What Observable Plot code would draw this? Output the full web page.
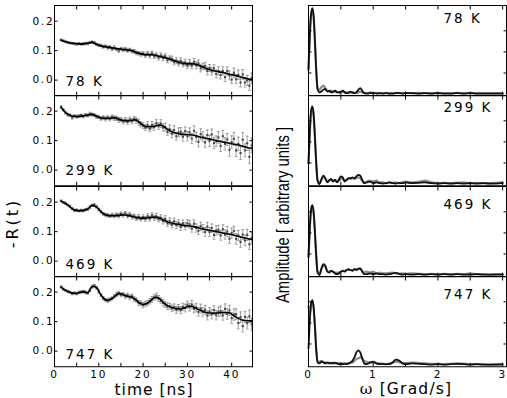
<!DOCTYPE html>
<html><head><meta charset="utf-8">
<script src="https://cdn.jsdelivr.net/npm/d3@7"></script>
<script src="https://cdn.jsdelivr.net/npm/@observablehq/plot@0.6"></script>
<style>
html,body{margin:0;padding:0;background:#fff;overflow:hidden}
#wrap{position:relative;width:507px;height:398px;overflow:hidden;font-family:"DejaVu Sans",sans-serif;color:#000}
#wrap svg{position:absolute;overflow:visible}
#wrap g[aria-label$="tick label"]{letter-spacing:1.8px}
#wrap g[aria-label="text"]{letter-spacing:2px}
</style></head><body><div id="wrap"></div>
<script>
// ---------------- data ----------------
const temps = ["78 K", "299 K", "469 K", "747 K"];

const timeNs = [1.5,2,2.5,3,3.5,4,4.5,5,5.5,6,6.5,7,7.5,8,8.5,9,9.5,10,
10.5,11,11.5,12,12.5,13,13.5,14,14.5,15,15.5,16,16.5,17,17.5,18,18.5,19,19.5,20,
20.5,21,21.5,22,22.5,23,23.5,24,24.5,25,25.5,26,26.5,27,27.5,28,28.5,29,29.5,30,
30.5,31,31.5,32,32.5,33,33.5,34,34.5,35,35.5,36,36.5,37,
37.5,38,38.5,39,39.5,40,40.5,41,41.5,42,42.5,43,43.5,44,44.5];

const r78 = [0.136,0.133,0.130,0.128,0.126,0.125,0.124,0.122,0.124,0.122,0.123,0.125,0.124,0.127,0.129,0.126,0.121,0.118,
0.117,0.113,0.115,0.110,0.112,0.106,0.110,0.105,0.100,0.106,0.103,0.105,0.100,0.103,0.098,0.097,0.092,0.091,0.088,0.090,
0.084,0.090,0.083,0.091,0.081,0.085,0.076,0.084,0.075,0.081,0.068,0.074,0.072,0.061,0.066,0.057,0.065,0.054,0.060,0.049,
0.059,0.049,0.062,0.050,0.057,0.040,0.046,0.048,0.031,0.041,0.030,0.040,0.021,0.031,
0.017,0.031,0.010,0.031,0.016,0.002,0.025,0.003,0.018,-0.008,0.019,-0.008,-0.001,-0.019,0.006];
const e78 = [0.003,0.003,0.003,0.003,0.003,0.003,0.003,0.004,0.003,0.003,0.004,0.003,0.004,0.003,0.004,0.004,0.004,0.004,
0.004,0.005,0.004,0.005,0.005,0.005,0.006,0.005,0.006,0.005,0.006,0.006,0.006,0.005,0.006,0.007,0.006,0.006,0.007,0.006,
0.007,0.007,0.008,0.007,0.008,0.007,0.008,0.008,0.009,0.008,0.009,0.008,0.009,0.009,0.010,0.009,0.010,0.009,0.010,0.010,
0.011,0.010,0.011,0.012,0.011,0.012,0.011,0.012,0.013,0.012,0.013,0.012,0.013,0.014,
0.013,0.014,0.015,0.014,0.015,0.014,0.016,0.015,0.016,0.015,0.017,0.016,0.017,0.016,0.018];

const r299 = [0.214,0.204,0.194,0.188,0.186,0.178,0.184,0.181,0.183,0.186,0.182,0.187,0.185,0.190,0.188,0.186,0.181,0.180,
0.175,0.178,0.174,0.178,0.174,0.180,0.176,0.175,0.170,0.171,0.165,0.170,0.164,0.171,0.166,0.174,0.168,0.163,0.155,0.151,
0.144,0.153,0.140,0.153,0.146,0.159,0.149,0.158,0.144,0.146,0.130,0.139,0.123,0.136,0.115,0.128,0.130,0.113,0.132,0.115,
0.128,0.107,0.133,0.112,0.096,0.122,0.113,0.094,0.119,0.099,0.121,0.092,0.098,0.111,
0.082,0.115,0.089,0.104,0.069,0.095,0.106,0.067,0.089,0.058,0.103,0.067,0.091,0.045,0.084];
const e299 = [0.004,0.004,0.004,0.005,0.004,0.005,0.004,0.005,0.005,0.004,0.005,0.005,0.005,0.006,0.005,0.005,0.006,0.005,
0.006,0.006,0.007,0.006,0.007,0.007,0.008,0.007,0.008,0.007,0.008,0.008,0.009,0.008,0.009,0.008,0.009,0.010,0.009,0.010,
0.010,0.011,0.010,0.012,0.011,0.012,0.011,0.013,0.012,0.013,0.012,0.014,0.013,0.014,0.013,0.015,0.014,0.015,0.014,0.016,
0.015,0.016,0.017,0.016,0.017,0.018,0.017,0.018,0.017,0.019,0.018,0.019,0.018,0.020,
0.019,0.020,0.021,0.020,0.022,0.021,0.022,0.021,0.023,0.022,0.024,0.022,0.024,0.023,0.025];

const r469 = [0.204,0.199,0.196,0.190,0.185,0.178,0.172,0.173,0.170,0.172,0.171,0.174,0.176,0.183,0.189,0.191,0.184,0.175,
0.167,0.160,0.157,0.155,0.153,0.156,0.153,0.157,0.154,0.160,0.156,0.162,0.153,0.158,0.150,0.152,0.145,0.150,0.143,0.149,
0.143,0.152,0.144,0.155,0.147,0.152,0.142,0.147,0.136,0.143,0.128,0.135,0.123,0.135,0.122,0.129,0.116,0.128,0.118,0.128,
0.125,0.110,0.127,0.112,0.103,0.118,0.111,0.099,0.117,0.099,0.112,0.089,0.104,0.106,
0.087,0.108,0.090,0.100,0.076,0.095,0.102,0.075,0.087,0.065,0.090,0.070,0.089,0.057,0.078];
const e469 = [0.003,0.003,0.004,0.003,0.004,0.003,0.004,0.004,0.003,0.004,0.004,0.004,0.004,0.005,0.004,0.004,0.005,0.004,
0.005,0.005,0.005,0.006,0.005,0.006,0.006,0.006,0.007,0.006,0.007,0.006,0.007,0.007,0.008,0.007,0.007,0.008,0.007,0.008,
0.008,0.009,0.008,0.009,0.009,0.010,0.009,0.010,0.010,0.011,0.010,0.011,0.010,0.011,0.012,0.011,0.012,0.011,0.012,0.012,
0.013,0.012,0.013,0.014,0.013,0.014,0.013,0.015,0.014,0.015,0.014,0.015,0.016,0.015,
0.016,0.015,0.016,0.017,0.016,0.017,0.016,0.018,0.017,0.018,0.017,0.018,0.019,0.018,0.019];

const r747 = [0.218,0.210,0.206,0.202,0.200,0.195,0.197,0.194,0.199,0.200,0.202,0.199,0.197,0.206,0.218,0.222,0.214,0.202,
0.190,0.179,0.174,0.171,0.175,0.179,0.186,0.192,0.196,0.191,0.193,0.186,0.189,0.182,0.186,0.176,0.173,0.163,0.162,0.156,
0.160,0.163,0.169,0.175,0.182,0.186,0.178,0.171,0.164,0.158,0.152,0.152,0.145,0.149,0.140,0.147,0.139,0.150,0.146,0.157,
0.149,0.158,0.143,0.148,0.133,0.144,0.133,0.140,0.121,0.134,0.125,0.139,0.122,0.133,
0.136,0.121,0.143,0.126,0.138,0.112,0.124,0.125,0.095,0.115,0.085,0.116,0.095,0.118,0.091];
const e747 = [0.003,0.004,0.003,0.004,0.003,0.004,0.004,0.003,0.004,0.004,0.004,0.005,0.004,0.004,0.005,0.004,0.005,0.005,
0.005,0.006,0.005,0.006,0.006,0.005,0.006,0.007,0.006,0.007,0.006,0.007,0.007,0.008,0.007,0.008,0.007,0.008,0.008,0.009,
0.008,0.009,0.009,0.010,0.009,0.010,0.010,0.009,0.011,0.010,0.011,0.010,0.011,0.011,0.012,0.011,0.012,0.012,0.013,0.012,
0.013,0.014,0.013,0.014,0.014,0.015,0.014,0.015,0.015,0.014,0.016,0.015,0.016,0.016,
0.017,0.016,0.017,0.018,0.017,0.018,0.019,0.018,0.019,0.018,0.020,0.019,0.020,0.021,0.020];

const fitT = [1.5,2.5,3.5,4.5,5.5,6.5,7.5,8.5,9.5,10.5,11.5,12.5,13.5,14.5,15.5,16.5,17.5,18.5,19.5,20.5,21.5,22.5,
23.5,24.5,25.5,26.5,27.5,28.5,29.5,30.5,31.5,32.5,33.5,34.5,35.5,36.5,37.5,38.5,39.5,40.5,41.5,42.5,43.5,44.5];
const fit78 = [0.135,0.130,0.126,0.124,0.123,0.123,0.125,0.128,0.122,0.116,0.113,0.111,0.108,0.106,0.104,0.102,0.100,0.094,0.089,0.086,0.086,0.085,
0.081,0.078,0.074,0.068,0.063,0.059,0.056,0.055,0.055,0.051,0.044,0.038,0.034,0.030,0.027,0.024,0.020,0.017,0.013,0.009,0.005,0.002];
const fit299 = [0.212,0.195,0.186,0.182,0.182,0.184,0.187,0.189,0.183,0.177,0.176,0.176,0.178,0.173,0.168,0.167,0.169,0.170,0.158,0.148,0.147,0.149,
0.153,0.150,0.138,0.130,0.125,0.122,0.121,0.120,0.118,0.114,0.110,0.107,0.104,0.100,0.097,0.094,0.091,0.088,0.085,0.081,0.077,0.074];
const fit469 = [0.203,0.195,0.184,0.173,0.171,0.172,0.177,0.189,0.183,0.168,0.157,0.154,0.154,0.155,0.157,0.155,0.152,0.148,0.146,0.146,0.148,0.149,
0.147,0.140,0.133,0.129,0.126,0.123,0.121,0.119,0.117,0.113,0.109,0.106,0.103,0.100,0.097,0.094,0.091,0.088,0.084,0.080,0.077,0.073];
const fit747 = [0.216,0.206,0.199,0.196,0.198,0.201,0.198,0.219,0.215,0.190,0.174,0.174,0.184,0.195,0.191,0.186,0.183,0.172,0.161,0.159,0.168,0.181,
0.180,0.166,0.154,0.148,0.144,0.143,0.148,0.153,0.149,0.141,0.135,0.130,0.129,0.129,0.130,0.131,0.130,0.120,0.111,0.105,0.103,0.103];

const omega = [0,0.02,0.04,0.06,0.08,0.10,0.12,0.14,
0.17,0.20,0.23,0.26,0.29,0.32,0.35,0.38,0.41,0.44,0.47,0.50,0.53,0.56,0.59,0.62,0.65,0.68,0.71,0.74,0.77,0.80,0.83,0.86,
0.90,0.95,1.00,1.05,1.10,1.15,1.20,1.25,1.30,1.35,1.40,1.45,1.50,
1.6,1.7,1.8,1.9,2.0,2.1,2.2,2.3,2.4,2.5,2.6,2.7,2.8,2.9,3.0];

const a78black = [0.30,0.70,0.95,1.02,0.92,0.62,0.28,0.06,
0.02,0.03,0.05,0.06,0.03,0.04,0.02,0.03,0.04,0.02,0.02,0.03,0.04,0.02,0.01,0.02,0.03,0.02,0.01,0.02,0.05,0.07,0.04,0.01,
0.005,0.01,0.015,0.005,0.01,0.005,0.01,0.005,0.005,0.01,0.015,0.005,0.01,
0.01,0.005,0.01,0.005,0.01,0.005,0.005,0.01,0.005,0.01,0.005,0.005,0.005,0.005,0.005];
const a78gray = [0.28,0.68,0.94,1.00,0.90,0.60,0.26,0.07,
0.05,0.08,0.10,0.07,0.04,0.03,0.04,0.02,0.03,0.03,0.02,0.02,0.03,0.02,0.02,0.01,0.02,0.01,0.02,0.01,0.02,0.03,0.02,0.015,
0.01,0.02,0.01,0.015,0.01,0.01,0.015,0.01,0.01,0.015,0.01,0.01,0.015,
0.01,0.015,0.01,0.01,0.015,0.01,0.01,0.015,0.01,0.015,0.01,0.01,0.01,0.01,0.01];

const a299black = [0.25,0.62,0.87,0.92,0.82,0.55,0.24,0.04,
0.00,0.06,0.10,0.07,0.02,0.04,0.06,0.03,0.05,0.02,0.05,0.09,0.08,0.03,0.05,0.07,0.07,0.08,0.07,0.09,0.11,0.10,0.05,0.01,
0.02,0.03,0.01,0.02,0.01,0.005,0.01,0.02,0.01,0.005,0.015,0.01,0.02,
0.01,0.015,0.02,0.01,0.005,0.01,0.005,0.01,0.005,0.01,0.005,0.01,0.005,0.005,0.01];
const a299gray = [0.24,0.60,0.85,0.90,0.80,0.54,0.24,0.05,
0.01,0.05,0.08,0.06,0.03,0.05,0.05,0.04,0.05,0.03,0.04,0.07,0.06,0.04,0.05,0.06,0.06,0.07,0.06,0.07,0.08,0.07,0.04,0.02,
0.03,0.04,0.03,0.04,0.02,0.02,0.01,0.02,0.015,0.02,0.01,0.02,0.03,
0.02,0.025,0.04,0.02,0.01,0.015,0.01,0.015,0.02,0.01,0.015,0.01,0.01,0.015,0.02];

const a469black = [0.22,0.56,0.78,0.83,0.74,0.50,0.22,0.03,
0.00,0.08,0.13,0.11,0.04,0.03,0.05,0.04,0.02,0.01,0.02,0.04,0.05,0.04,0.06,0.07,0.06,0.05,0.07,0.06,0.07,0.08,0.04,0.01,
0.01,0.02,0.01,0.02,0.01,0.01,0.005,0.01,0.02,0.025,0.015,0.005,0.01,
0.005,0.01,0.005,0.01,0.005,0.01,0.005,0.01,0.005,0.005,0.01,0.005,0.005,0.005,0.005];
const a469gray = [0.21,0.55,0.77,0.82,0.73,0.49,0.22,0.04,
0.02,0.07,0.11,0.10,0.05,0.04,0.05,0.04,0.03,0.03,0.03,0.04,0.05,0.05,0.06,0.06,0.06,0.06,0.07,0.07,0.08,0.07,0.05,0.03,
0.04,0.03,0.04,0.02,0.03,0.02,0.02,0.025,0.03,0.02,0.015,0.02,0.015,
0.02,0.015,0.01,0.015,0.01,0.015,0.01,0.015,0.01,0.02,0.01,0.01,0.005,0.01,0.01];

const a747black = [0.20,0.52,0.73,0.77,0.68,0.45,0.18,0.03,
0.02,0.04,0.03,0.02,0.03,0.02,0.025,0.02,0.03,0.02,0.01,0.02,0.01,0.015,0.01,0.02,0.03,0.05,0.09,0.15,0.175,0.15,0.08,0.02,
0.01,0.03,0.04,0.02,0.01,0.015,0.01,0.01,0.03,0.065,0.055,0.02,0.01,
0.02,0.015,0.01,0.005,0.01,0.005,0.01,0.015,0.01,0.005,0.01,0.005,0.005,0.005,0.005];
const a747gray = [0.70,0.60,0.72,0.76,0.67,0.44,0.18,0.04,
0.04,0.05,0.04,0.03,0.03,0.03,0.02,0.03,0.02,0.02,0.02,0.015,0.02,0.02,0.02,0.02,0.03,0.03,0.05,0.07,0.08,0.09,0.08,0.05,
0.04,0.03,0.03,0.02,0.02,0.015,0.01,0.02,0.03,0.04,0.035,0.025,0.02,
0.03,0.025,0.02,0.015,0.015,0.01,0.015,0.02,0.015,0.01,0.01,0.01,0.005,0.01,0.015];

const timeTicks = [0, 10, 20, 30, 40];
const timeMinor = [0, 5, 10, 15, 20, 25, 30, 35, 40];
const rTicks = [0, 0.1, 0.2];
const omegaTicks = [0, 1, 2, 3];
const omegaMinor = [0, 0.5, 1, 1.5, 2, 2.5, 3];
const ampTicks = [0.25, 0.5, 0.75];

const leftSeries = [[r78, e78, fit78], [r299, e299, fit299], [r469, e469, fit469], [r747, e747, fit747]];
const rightSeries = [[a78black, a78gray], [a299black, a299gray], [a469black, a469gray], [a747black, a747gray]];

// ---------------- layout ----------------
const wrap = document.getElementById("wrap");
const P0 = 5, PH = 90.25;
const leftLabelDy = [-14.5, -15.5, -12, -12];
const rightLabelDy = [13.5, 12.5, 18, 18];
const FONT = "DejaVu Sans";
const capSymbol = {draw(ctx, size) { const r = Math.sqrt(size / Math.PI); ctx.moveTo(-r, 0); ctx.lineTo(r, 0); }};

function place(svg, left, top) {
  svg.style.left = left + "px";
  svg.style.top = top + "px";
  wrap.appendChild(svg);
}

function inward(scaleAxis, ticks, anchor) {
  return scaleAxis(ticks, {anchor, tickSize: -3.5, fill: "none", label: null, strokeWidth: 1});
}

temps.forEach((temp, i) => {
  const last = i === 3;
  const mt = 4, mb = last ? 32 : 4;
  const top = P0 + i * PH - mt;

  // left panel: -R(t)
  const [vals, errs, fit] = leftSeries[i];
  const pts = timeNs.map((t, j) => ({t, v: vals[j], e: errs[j]}));
  const fitPts = fitT.map((t, j) => ({t, v: fit[j]}));
  const left = Plot.plot({
    width: 256, height: PH + mt + mb,
    marginLeft: 54, marginRight: 4, marginTop: mt, marginBottom: mb,
    x: {domain: [0, 44.7]},
    y: {domain: [-0.053, 0.253]},
    style: {background: "none", overflow: "visible", color: "black", fontFamily: FONT},
    marks: [
      Plot.ruleX(pts, {x: "t", y1: d => d.v - d.e, y2: d => d.v + d.e, stroke: "#8a8a8a", strokeWidth: 0.8}),
      Plot.dot(pts, {x: "t", y: d => d.v + d.e, symbol: capSymbol, r: 1.4, stroke: "#8a8a8a", strokeWidth: 0.8}),
      Plot.dot(pts, {x: "t", y: d => d.v - d.e, symbol: capSymbol, r: 1.4, stroke: "#8a8a8a", strokeWidth: 0.8}),
      Plot.dot(pts, {x: "t", y: "v", symbol: "square", r: 1.2, fill: "#4a4a4a", stroke: null}),
      Plot.line(fitPts, {x: "t", y: "v", curve: "catmull-rom", stroke: "black", strokeWidth: 1.6}),
      Plot.frame({stroke: "black", strokeWidth: 1}),
      Plot.axisY(rTicks, {anchor: "left", tickSize: 0, tickPadding: 0, tickFormat: d3.format(".1f"), label: null, fontSize: 10.5, fontFamily: FONT}),
      inward(Plot.axisY, rTicks, "left"),
      inward(Plot.axisY, rTicks, "right"),
      inward(Plot.axisX, timeMinor, "top"),
      inward(Plot.axisX, timeMinor, "bottom"),
      last ? Plot.axisX(timeTicks, {anchor: "bottom", tickSize: 0, tickPadding: 3.5, label: null, fontSize: 10.5, fontFamily: FONT}) : null,
      Plot.text([temp], {text: d => d, frameAnchor: "bottom-left", textAnchor: "start", lineAnchor: "middle", dx: 11, dy: leftLabelDy[i], fontSize: 13.5, fontFamily: FONT})
    ]
  });
  place(left, 0, top);

  // right panel: amplitude spectrum
  const [blk, gry] = rightSeries[i];
  const spec = omega.map((w, j) => ({w, b: blk[j], g: gry[j]}));
  const right = Plot.plot({
    width: 207, height: PH + mt + mb,
    marginLeft: 8, marginRight: 1, marginTop: mt, marginBottom: mb,
    x: {domain: [0, 3.06]},
    y: {domain: [-0.02, 1.05]},
    style: {background: "none", overflow: "visible", color: "black", fontFamily: FONT},
    marks: [
      Plot.line(spec, {x: "w", y: "g", stroke: "#8c8c8c", strokeWidth: 2.2, curve: "monotone-x"}),
      Plot.line(spec, {x: "w", y: "b", stroke: "#111", strokeWidth: 1.8, curve: "monotone-x"}),
      Plot.frame({stroke: "black", strokeWidth: 1}),
      inward(Plot.axisY, ampTicks, "left"),
      inward(Plot.axisY, ampTicks, "right"),
      inward(Plot.axisX, omegaMinor, "top"),
      inward(Plot.axisX, omegaMinor, "bottom"),
      last ? Plot.axisX(omegaTicks, {anchor: "bottom", tickSize: 0, tickPadding: 3.5, label: null, fontSize: 10.5, fontFamily: FONT}) : null,
      Plot.text([temp], {text: d => d, frameAnchor: "top-left", textAnchor: "start", lineAnchor: "middle", dx: 135, dy: rightLabelDy[i], fontSize: 13.5, fontFamily: FONT})
    ]
  });
  place(right, 300, top);
});

// axis titles
const NS = "http://www.w3.org/2000/svg";
const ov = document.createElementNS(NS, "svg");
ov.setAttribute("width", 507); ov.setAttribute("height", 398);
ov.style.left = "0px"; ov.style.top = "0px";
ov.innerHTML = `
<text x="154" y="395" text-anchor="middle" font-family="DejaVu Sans" font-size="15.5" letter-spacing="1">time [ns]</text>
<text x="406" y="394" text-anchor="middle" font-family="DejaVu Sans" font-size="15.5" letter-spacing="1.2"><tspan font-family="DejaVu Serif">ω</tspan> [Grad/s]</text>
<text transform="translate(18,223) rotate(-90)" text-anchor="middle" font-family="DejaVu Sans" font-size="16" letter-spacing="3">-R(t)</text>
<text transform="translate(289,215) rotate(-90) scale(0.8,1)" text-anchor="middle" font-family="Liberation Sans" font-size="18.5">Amplitude [ arbitrary units ]</text>`;
wrap.appendChild(ov);
</script></body></html>
